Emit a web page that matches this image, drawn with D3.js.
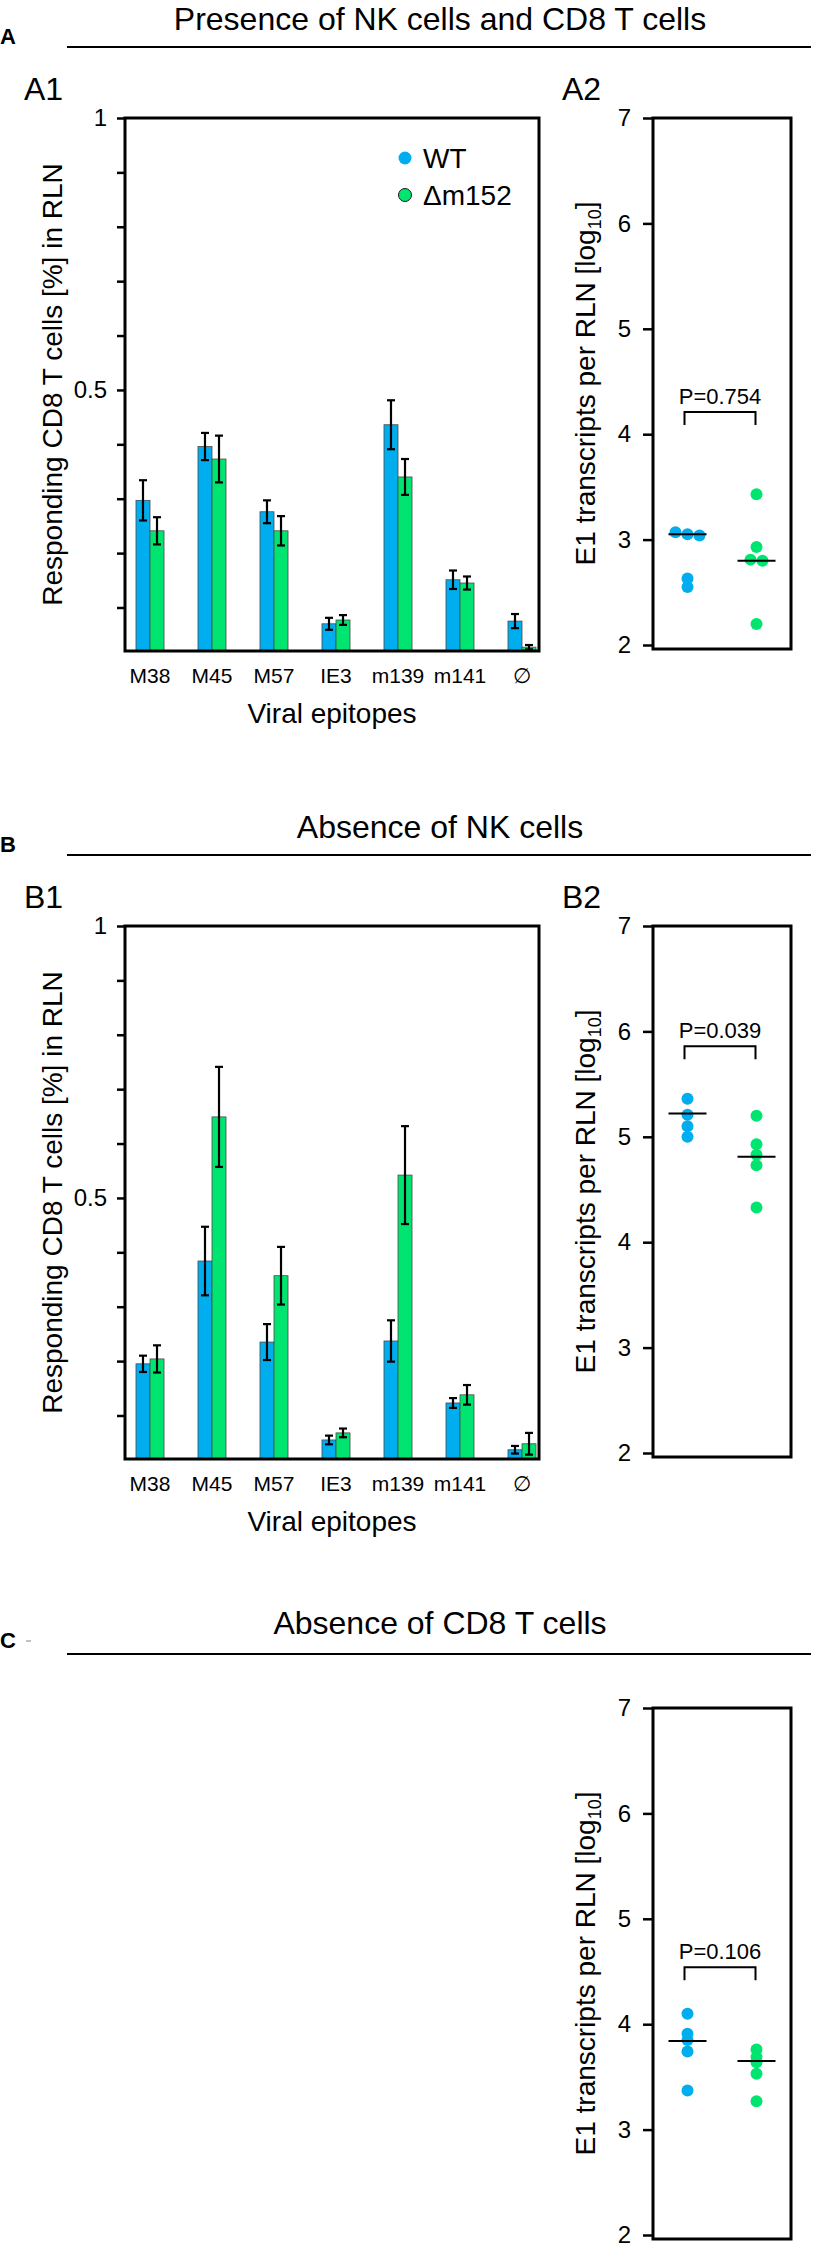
<!DOCTYPE html>
<html>
<head>
<meta charset="UTF-8">
<title>NK and CD8 T cells</title>
<script src="https://cdn.jsdelivr.net/npm/d3@7"></script>
<style>
  body { margin: 0; background: #fff; }
  text { font-family: "Liberation Sans", Arial, sans-serif; fill: #000; }
</style>
</head>
<body>
<script>
// categories
const epitopes = ["M38", "M45", "M57", "IE3", "m139", "m141", "\u2205"]
const groups = ["WT", "\u0394m152"]

// A1: responding CD8 T cells, NK + CD8 present
const a1WT = [0.297, 0.396, 0.276, 0.070, 0.436, 0.151, 0.075]
const a1WTErr = [0.037, 0.025, 0.021, 0.011, 0.045, 0.017, 0.013]
const a1Mut = [0.241, 0.373, 0.241, 0.077, 0.340, 0.145, 0.027]
const a1MutErr = [0.025, 0.043, 0.027, 0.009, 0.033, 0.012, 0.004]

// B1: responding CD8 T cells, NK depleted
const b1WT = [0.195, 0.384, 0.235, 0.055, 0.237, 0.123, 0.037]
const b1WTErr = [0.015, 0.063, 0.033, 0.008, 0.038, 0.009, 0.007]
const b1Mut = [0.204, 0.649, 0.357, 0.068, 0.542, 0.138, 0.048]
const b1MutErr = [0.025, 0.092, 0.053, 0.008, 0.090, 0.018, 0.020]

// E1 transcripts per RLN [log10]
const a2WT = [3.07, 3.05, 3.04, 2.63, 2.55]
const a2Mut = [3.43, 2.93, 2.81, 2.80, 2.20]
const a2Median = [3.05, 2.80]
const b2WT = [5.36, 5.21, 5.10, 5.00]
const b2Mut = [5.20, 4.93, 4.83, 4.73, 4.33]
const b2Median = [5.22, 4.81]
const c2WT = [4.10, 3.91, 3.85, 3.74, 3.37]
const c2Mut = [3.76, 3.69, 3.64, 3.53, 3.27]
const c2Median = [3.84, 3.65]

const pLabels = ["P=0.754", "P=0.039", "P=0.106"]
const pLevels = [4.21, 5.86, 4.54]

const sections = ["A", "B", "C"]
const titles = ["Presence of NK cells and CD8 T cells", "Absence of NK cells", "Absence of CD8 T cells"]

const colors = { "WT": "#00aeef", "\u0394m152": "#00e56f" }

const svg = d3.select("body")
  .append("svg")
  .attr("width", 814)
  .attr("height", 2244)

// section header: letter, title and rule
function header(letter, title, titleY, lineY) {
  svg.append("text")
    .attr("x", 0).attr("y", titleY + 14)
    .attr("font-size", 22).attr("font-weight", "bold")
    .text(letter)
  svg.append("text")
    .attr("x", 440).attr("y", titleY)
    .attr("text-anchor", "middle")
    .attr("font-size", 32)
    .text(title)
  svg.append("line")
    .attr("x1", 67).attr("x2", 811)
    .attr("y1", lineY).attr("y2", lineY)
    .attr("stroke", "#000").attr("stroke-width", 2)
}

function yTitle(x, cy, parts) {
  const t = svg.append("text")
    .attr("transform", "translate(" + x + "," + cy + ") rotate(-90)")
    .attr("text-anchor", "middle")
    .attr("font-size", 28)
  parts.forEach(p => {
    const s = t.append("tspan").text(p.t)
    if (p.sub) s.attr("font-size", 18).attr("dy", 6)
    if (p.after) s.attr("dy", -6)
  })
}

function barPanel(top, wt, wtErr, mut, mutErr, label, legend) {
  const left = 125, right = 539, bottom = top + 533

  const x = d3.scaleBand()
    .domain(epitopes)
    .range([left - 6, right + 14])
    .paddingInner(0.548)
    .paddingOuter(0.274)
  const xs = d3.scaleBand().domain(groups).range([0, x.bandwidth()])
  const y = d3.scaleLinear().domain([0.02, 1]).range([bottom, top])

  svg.append("text")
    .attr("x", 24).attr("y", top - 18)
    .attr("font-size", 32)
    .text(label)

  const rows = []
  epitopes.forEach((e, i) => {
    rows.push({ e, g: groups[0], v: wt[i], err: wtErr[i] })
    rows.push({ e, g: groups[1], v: mut[i], err: mutErr[i] })
  })

  const g = svg.append("g")
  g.selectAll("rect.bar")
    .data(rows)
    .enter().append("rect")
    .attr("class", "bar")
    .attr("x", d => x(d.e) + xs(d.g))
    .attr("y", d => y(d.v))
    .attr("width", xs.bandwidth())
    .attr("height", d => bottom - y(d.v))
    .attr("fill", d => colors[d.g])
    .attr("stroke", "#4a4a4a")
    .attr("stroke-width", 0.8)

  const cx = d => x(d.e) + xs(d.g) + xs.bandwidth() / 2
  const eb = g.selectAll("g.err").data(rows).enter().append("g")
    .attr("stroke", "#000").attr("stroke-width", 2.2)
  eb.append("line")
    .attr("x1", cx).attr("x2", cx)
    .attr("y1", d => y(d.v + d.err)).attr("y2", d => y(Math.max(d.v - d.err, 0.02)))
  eb.append("line")
    .attr("x1", d => cx(d) - 4).attr("x2", d => cx(d) + 4)
    .attr("y1", d => y(d.v + d.err)).attr("y2", d => y(d.v + d.err))
  eb.append("line")
    .attr("x1", d => cx(d) - 4).attr("x2", d => cx(d) + 4)
    .attr("y1", d => y(Math.max(d.v - d.err, 0.02))).attr("y2", d => y(Math.max(d.v - d.err, 0.02)))

  // y axis
  const ya = svg.append("g")
    .attr("transform", "translate(" + left + ",0)")
    .call(d3.axisLeft(y)
      .tickValues(d3.range(1, 11).map(d => d / 10))
      .tickSize(8)
      .tickPadding(10)
      .tickFormat(d => (d === 0.5 || d === 1) ? String(d) : ""))
  ya.select(".domain").remove()
  ya.selectAll(".tick line").attr("stroke-width", 2.5)
  ya.selectAll(".tick text").attr("font-size", 24).attr("font-family", null)

  // x axis
  const xa = svg.append("g")
    .attr("transform", "translate(0," + bottom + ")")
    .call(d3.axisBottom(x).tickSize(0).tickPadding(17))
  xa.select(".domain").remove()
  xa.selectAll(".tick text").attr("font-size", 21).attr("font-family", null)

  svg.append("rect")
    .attr("x", left).attr("y", top)
    .attr("width", right - left).attr("height", bottom - top)
    .attr("fill", "none").attr("stroke", "#000").attr("stroke-width", 3)

  svg.append("text")
    .attr("x", (left + right) / 2).attr("y", bottom + 72)
    .attr("text-anchor", "middle")
    .attr("font-size", 28)
    .text("Viral epitopes")

  yTitle(62, (top + bottom) / 2, [{ t: "Responding CD8 T cells [%] in RLN" }])

  if (legend) {
    groups.forEach((gr, i) => {
      svg.append("circle")
        .attr("cx", right - 134).attr("cy", top + 40 + i * 37)
        .attr("r", 6.5)
        .attr("fill", colors[gr])
        .attr("stroke", i ? "#1a1a1a" : "none")
        .attr("stroke-width", 1)
      svg.append("text")
        .attr("x", right - 116).attr("y", top + 50 + i * 37)
        .attr("font-size", 28)
        .text(gr)
    })
  }
}

// spread points whose values sit within a few pixels of each other
function dodge(vals, y) {
  const order = vals.map((v, i) => i).sort((a, b) => vals[b] - vals[a])
  const off = vals.map(() => 0)
  let cluster = [order[0]]
  const flush = () => {
    cluster.forEach((k, j) => { off[k] = (j - (cluster.length - 1) / 2) * 12 })
  }
  for (let n = 1; n < order.length; n++) {
    const prev = order[n - 1], cur = order[n]
    if (Math.abs(y(vals[cur]) - y(vals[prev])) < 4) cluster.push(cur)
    else { flush(); cluster = [cur] }
  }
  flush()
  return off
}

function dotPanel(top, wt, mut, med, pText, pLevel, label) {
  const left = 653, right = 791, bottom = top + 531

  const y = d3.scaleLinear().domain([2, 7]).range([top + 527, top])
  const x = d3.scalePoint().domain(groups).range([left, right]).padding(0.5)

  if (label) {
    svg.append("text")
      .attr("x", 562).attr("y", top - 18)
      .attr("font-size", 32)
      .text(label)
  }

  const series = [wt, mut]
  series.forEach((vals, si) => {
    const off = dodge(vals, y)
    svg.append("g").selectAll("circle")
      .data(vals)
      .enter().append("circle")
      .attr("cx", (d, i) => x(groups[si]) + off[i])
      .attr("cy", d => y(d))
      .attr("r", 6)
      .attr("fill", colors[groups[si]])
    svg.append("line")
      .attr("x1", x(groups[si]) - 19).attr("x2", x(groups[si]) + 19)
      .attr("y1", y(med[si])).attr("y2", y(med[si]))
      .attr("stroke", "#000").attr("stroke-width", 2)
  })

  // significance bracket
  const by = y(pLevel)
  svg.append("path")
    .attr("d", "M" + (x(groups[0]) - 3) + "," + (by + 13) + "V" + by + "H" + (x(groups[1]) - 1) + "V" + (by + 13))
    .attr("fill", "none").attr("stroke", "#000").attr("stroke-width", 2)
  svg.append("text")
    .attr("x", (x(groups[0]) + x(groups[1])) / 2 - 2).attr("y", by - 8)
    .attr("text-anchor", "middle")
    .attr("font-size", 22)
    .text(pText)

  const ya = svg.append("g")
    .attr("transform", "translate(" + left + ",0)")
    .call(d3.axisLeft(y).tickValues([2, 3, 4, 5, 6, 7]).tickSize(10).tickPadding(12).tickFormat(d3.format("d")))
  ya.select(".domain").remove()
  ya.selectAll(".tick line").attr("stroke-width", 2.5)
  ya.selectAll(".tick text").attr("font-size", 24).attr("font-family", null)

  svg.append("rect")
    .attr("x", left).attr("y", top)
    .attr("width", right - left).attr("height", bottom - top)
    .attr("fill", "none").attr("stroke", "#000").attr("stroke-width", 3)

  yTitle(595, (top + bottom) / 2, [
    { t: "E1 transcripts per RLN [log" },
    { t: "10", sub: true },
    { t: "]", after: true }
  ])
}

// A
header(sections[0], titles[0], 30, 47)
barPanel(118, a1WT, a1WTErr, a1Mut, a1MutErr, "A1", true)
dotPanel(118, a2WT, a2Mut, a2Median, pLabels[0], pLevels[0], "A2")

// B
header(sections[1], titles[1], 838, 855)
barPanel(926, b1WT, b1WTErr, b1Mut, b1MutErr, "B1", false)
dotPanel(926, b2WT, b2Mut, b2Median, pLabels[1], pLevels[1], "B2")

// C
header(sections[2], titles[2], 1634, 1654)
svg.append("line")
  .attr("x1", 26).attr("x2", 31)
  .attr("y1", 1641).attr("y2", 1641)
  .attr("stroke", "#999").attr("stroke-width", 1.2)
dotPanel(1708, c2WT, c2Mut, c2Median, pLabels[2], pLevels[2], null)
</script>
</body>
</html>
